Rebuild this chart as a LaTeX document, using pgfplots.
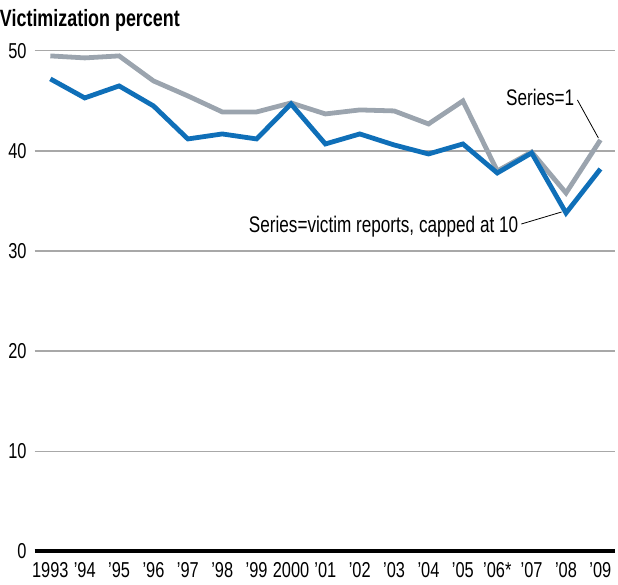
\documentclass[border=0pt]{standalone}
\usepackage{fontspec}
\setmainfont[FakeStretch=0.76]{Liberation Sans}
\usepackage{pgfplots}
\pgfplotsset{compat=1.18}
\definecolor{serblue}{HTML}{0F6FB8}
\definecolor{sergray}{HTML}{9BA4AE}
\definecolor{gridgray}{HTML}{A8A8A8}

\begin{document}
\begin{tikzpicture}
\begin{axis}[
  scale only axis, width=290.5pt, height=250.6pt,
  xmin=-0.46, xmax=16.41, ymin=0, ymax=50,
  axis x line=bottom, axis y line=left,
  x axis line style={black, line width=1.8pt, -},
  y axis line style={draw=none},
  xtick={0,...,16},
  xticklabels={1993,'94,'95,'96,'97,'98,'99,2000,'01,'02,'03,'04,'05,'06*,'07,'08,'09},
  ytick={0,10,20,30,40,50},
  major tick length=0pt,
  ymajorgrids, major grid style={gridgray, line width=0.6pt},
  tick label style={font=\fontsize{10.8}{12}\selectfont},
  /pgf/number format/assume math mode=true,
  xticklabel style={yshift=-2pt},
  yticklabel style={xshift=-0.5pt},
  clip=false,
]
% BEGIN GENERATED: victimization
\addplot[sergray, line width=2.4pt, line join=miter] coordinates {
 (0,49.5) (1,49.3) (2,49.5) (3,47.0) (4,45.5) (5,43.9) (6,43.9) (7,44.8)
 (8,43.7) (9,44.1) (10,44.0) (11,42.7) (12,45.0) (13,38.0) (14,39.9) (15,35.8) (16,41.1)};
\addplot[serblue, line width=2.4pt, line join=miter] coordinates {
 (0,47.2) (1,45.3) (2,46.5) (3,44.5) (4,41.2) (5,41.7) (6,41.2) (7,44.7)
 (8,40.7) (9,41.7) (10,40.6) (11,39.7) (12,40.7) (13,37.8) (14,39.8) (15,33.8) (16,38.2)};
% END GENERATED: victimization
\node[anchor=east, inner sep=0pt, font=\fontsize{11.3}{12}\selectfont] at (axis cs:15.25,45.3) {Series=1};
\draw[black, line width=0.4pt] (axis cs:15.33,45.1) -- (axis cs:15.94,41.3);
\node[anchor=east, inner sep=0pt, font=\fontsize{11.3}{12}\selectfont] at (axis cs:13.62,32.4) {Series=victim reports, capped at 10};
\draw[black, line width=0.4pt] (axis cs:13.70,32.7) -- (axis cs:14.87,33.9);
\node[anchor=west, inner sep=0pt, font=\bfseries\fontsize{11.8}{13}\selectfont] at (axis cs:-0.46,50) [xshift=-17.5pt, yshift=15.5pt] {Victimization percent};
\path (rel axis cs:0,1) ++(0,25.5pt);
\end{axis}
\end{tikzpicture}
\end{document}
